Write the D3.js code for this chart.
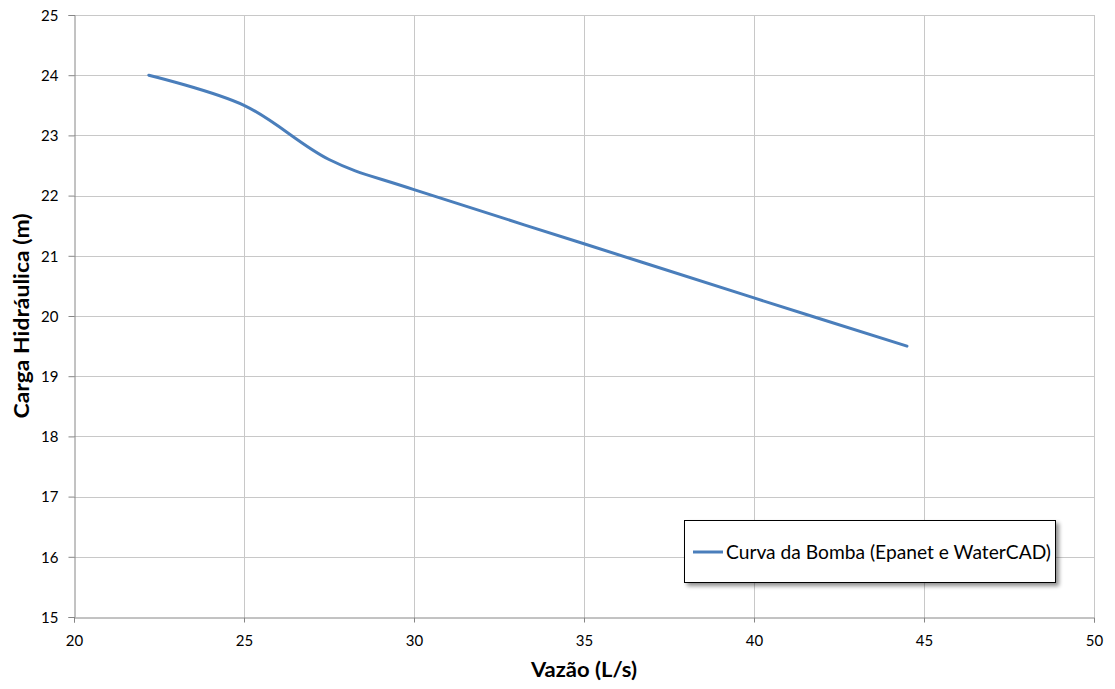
<!DOCTYPE html>
<html>
<head>
<meta charset="utf-8">
<script src="https://cdn.jsdelivr.net/npm/d3@7"></script>
<style>
  html, body { margin: 0; padding: 0; background: #ffffff; }
  svg { display: block; }
  text { font-family: Lato, "Open Sans", sans-serif; }
</style>
</head>
<body>
<svg id="chart" width="1115" height="689"></svg>
<script>
const flowValues = [22.2, 25, 27.5, 30, 35, 40, 44.5];
const headValues = [24, 23.5, 22.6, 22.1, 21.2, 20.3, 19.5];
const xTicks = [20, 25, 30, 35, 40, 45, 50];
const yTicks = [15, 16, 17, 18, 19, 20, 21, 22, 23, 24, 25];
const seriesName = "Curva da Bomba (Epanet e WaterCAD)";
const xTitle = "Vazão (L/s)";
const yTitle = "Carga Hidráulica (m)";

const svg = d3.select("#chart");
const plotLeft = 74, plotRight = 1094, plotTop = 15, plotBottom = 617;

const x = d3.scaleLinear().domain([20, 50]).range([plotLeft, plotRight]);
const y = d3.scaleLinear().domain([15, 25]).range([plotBottom, plotTop]);

const defs = svg.append("defs");
const filt = defs.append("filter").attr("id", "shadow").attr("x", "-10%").attr("y", "-30%").attr("width", "130%").attr("height", "180%");
filt.append("feGaussianBlur").attr("in", "SourceAlpha").attr("stdDeviation", 2);
filt.append("feOffset").attr("dx", 3).attr("dy", 3).attr("result", "ob");
filt.append("feComponentTransfer").append("feFuncA").attr("type", "linear").attr("slope", 0.45);
const merge = filt.append("feMerge");
merge.append("feMergeNode");
merge.append("feMergeNode").attr("in", "SourceGraphic");

// Gridlines
svg.append("g").selectAll("line").data(xTicks.filter(d => d > 20)).join("line")
  .attr("x1", d => x(d) + 0.5).attr("x2", d => x(d) + 0.5)
  .attr("y1", plotTop).attr("y2", plotBottom)
  .attr("stroke", "#c8c8c8").attr("stroke-width", 1);
svg.append("g").selectAll("line").data(yTicks.filter(d => d > 15)).join("line")
  .attr("x1", plotLeft).attr("x2", plotRight)
  .attr("y1", d => Math.round(y(d)) + 0.5).attr("y2", d => Math.round(y(d)) + 0.5)
  .attr("stroke", "#c8c8c8").attr("stroke-width", 1);

// Axes
const xAxis = d3.axisBottom(x).tickValues(xTicks).tickSize(5).tickPadding(13).tickFormat(d3.format("d"));
const yAxis = d3.axisLeft(y).tickValues(yTicks).tickSize(6).tickPadding(10).tickFormat(d3.format("d"));

const gx = svg.append("g").attr("transform", `translate(0,${plotBottom + 0.5})`).call(xAxis);
const gy = svg.append("g").attr("transform", `translate(${plotLeft + 0.5},0)`).call(yAxis);
[gx, gy].forEach(g => {
  g.select(".domain").attr("stroke", "#868686");
  g.selectAll(".tick line").attr("stroke", "#868686");
  g.selectAll(".tick text").attr("fill", "#000").style("font-size", "15px").style("font-family", "Lato, 'Open Sans', sans-serif");
});
gy.selectAll(".tick text").attr("dy", "0.35em");

// Line
const pts = flowValues.map((f, i) => [f, headValues[i]]);
const line = d3.line().x(d => x(d[0])).y(d => y(d[1])).curve(d3.curveCardinal.tension(0));
svg.append("path").datum(pts).attr("d", line)
  .attr("fill", "none").attr("stroke", "#4a7ebb").attr("stroke-width", 3).attr("stroke-linecap", "round");

// Axis titles
svg.append("text").attr("x", 584).attr("y", 677).attr("text-anchor", "middle")
  .style("font-size", "21px").style("font-weight", "bold")
  .attr("textLength", 106).attr("lengthAdjust", "spacingAndGlyphs").text(xTitle);
svg.append("text").attr("transform", "translate(29,316) rotate(-90)").attr("text-anchor", "middle")
  .style("font-size", "21px").style("font-weight", "bold")
  .attr("textLength", 205).attr("lengthAdjust", "spacingAndGlyphs").text(yTitle);

// Legend
const lg = svg.append("g");
lg.append("rect").attr("x", 684.5).attr("y", 520.5).attr("width", 371).attr("height", 62)
  .attr("fill", "#fff").attr("stroke", "#000").attr("stroke-width", 1).attr("filter", "url(#shadow)");
lg.append("line").attr("x1", 693).attr("x2", 723).attr("y1", 552).attr("y2", 552)
  .attr("stroke", "#4a7ebb").attr("stroke-width", 3);
lg.append("text").attr("x", 726).attr("y", 552).attr("dy", "0.35em")
  .style("font-size", "19px").attr("textLength", 325).attr("lengthAdjust", "spacingAndGlyphs").text(seriesName);
</script>
</body>
</html>
